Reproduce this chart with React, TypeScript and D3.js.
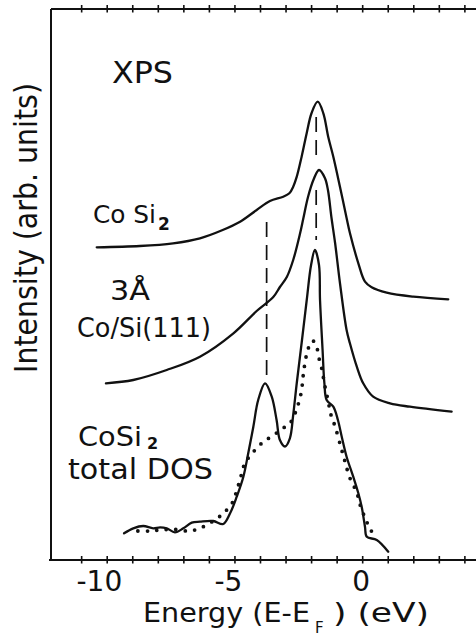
import React from "react";
import * as d3 from "d3";

const W = 476;
const H = 639;

// XPS spectrum of CoSi2 (energy in eV, intensity in arb. units)
const cosi2E = [-10.41, -8.72, -7.42, -6.37, -5.48, -4.8, -4.15, -3.63, -3.11, -2.87, -2.72, -2.58, -2.39, -2.19, -2.0, -1.76, -1.54, -1.35, -1.15, -0.89, -0.63, -0.5, -0.17, 0.09, 0.35, 0.94, 1.98, 3.35];
const cosi2I = [3.127, 3.14, 3.167, 3.217, 3.3, 3.383, 3.5, 3.59, 3.633, 3.667, 3.733, 3.833, 4.033, 4.27, 4.47, 4.583, 4.467, 4.233, 4.033, 3.733, 3.42, 3.27, 2.967, 2.783, 2.727, 2.673, 2.633, 2.607];

// XPS spectrum of 3 A Co on Si(111)
const coSiE = [-10.05, -8.98, -7.67, -6.37, -5.06, -4.15, -3.5, -3.24, -2.97, -2.72, -2.45, -2.32, -2.14, -1.93, -1.71, -1.48, -1.36, -1.22, -1.08, -0.89, -0.63, -0.5, -0.23, 0.02, 0.41, 1.07, 1.85, 3.48];
const coSiI = [1.767, 1.8, 1.9, 2.033, 2.267, 2.49, 2.63, 2.73, 2.83, 3.0, 3.267, 3.42, 3.63, 3.8, 3.9, 3.82, 3.7, 3.42, 3.17, 2.77, 2.3, 2.167, 1.933, 1.767, 1.633, 1.567, 1.533, 1.483];

// CoSi2 total DOS (solid)
const dosE = [-9.34, -8.98, -8.59, -8.2, -7.93, -7.67, -7.35, -7.02, -6.69, -6.37, -5.85, -5.46, -5.19, -4.93, -4.67, -4.48, -4.28, -4.09, -3.82, -3.56, -3.37, -3.24, -3.04, -2.85, -2.72, -2.58, -2.39, -2.19, -2.02, -1.87, -1.71, -1.67, -1.57, -1.5, -1.41, -1.15, -0.97, -0.82, -0.63, -0.37, -0.17, -0.04, 0.09, 0.16, 0.55, 1.0];
const dosI = [0.267, 0.317, 0.34, 0.317, 0.327, 0.317, 0.277, 0.317, 0.373, 0.383, 0.39, 0.36, 0.467, 0.633, 0.833, 1.067, 1.333, 1.6, 1.767, 1.633, 1.4, 1.2, 1.135, 1.217, 1.45, 1.77, 2.17, 2.6, 2.95, 3.1, 2.95, 2.6, 2.1, 1.77, 1.6, 1.533, 1.4, 1.233, 1.033, 0.833, 0.667, 0.533, 0.333, 0.233, 0.2, 0.083];

// broadened DOS (dotted)
const dosBroadE = [-8.8, -8.36, -7.93, -7.39, -6.8, -6.37, -5.66, -5.35, -5.1, -4.93, -4.77, -4.61, -4.25, -3.91, -3.56, -3.12, -2.83, -2.52, -2.39, -2.34, -2.29, -2.22, -2.13, -1.96, -1.8, -1.7, -1.59, -1.5, -1.36, -1.24, -1.08, -0.85, -0.69, -0.52, -0.23, -0.07, 0.12, 0.31, 0.56];
const dosBroadI = [0.29, 0.29, 0.3, 0.307, 0.29, 0.317, 0.423, 0.493, 0.573, 0.693, 0.833, 0.967, 1.09, 1.177, 1.237, 1.317, 1.373, 1.56, 1.7, 1.82, 1.92, 2.027, 2.117, 2.193, 2.127, 2.007, 1.9, 1.767, 1.6, 1.45, 1.335, 1.127, 0.983, 0.833, 0.673, 0.527, 0.407, 0.3, 0.23];

// peak markers: energy, intensity range
const markE = [-1.82, -1.82, -3.76];
const markFrom = [4.43, 3.7, 3.38];
const markTo = [4.0, 3.2, 1.85];

const xTicks = [-11, -10, -9, -8, -7, -6, -5, -4, -3, -2, -1, 0, 1, 2, 3, 4];
const xTickLabels = [-10, -5, 0];

const zip = (a: number[], b: number[]) => a.map((v, i) => [v, b[i]] as [number, number]);

export default function App() {
  const x = d3.scaleLinear().domain([-12.2, 4.4]).range([51, 475.1]);
  const y = d3.scaleLinear().domain([0, 5.51]).range([560, 9]);
  const line = d3
    .line<[number, number]>()
    .x((d) => x(d[0]))
    .y((d) => y(d[1]))
    .curve(d3.curveCatmullRom.alpha(0.5));

  const ink = "#111";
  const font = "DejaVu Sans";

  return (
    <svg
      width={W}
      height={H}
      style={{ position: "absolute", left: 0, top: 0, background: "#fff" }}
      fontFamily={font}
      fill={ink}
    >
      <rect x={0} y={0} width={W} height={H} fill="#fff" />

      {/* frame */}
      <line x1={51} y1={y(5.51)} x2={51} y2={y(0)} stroke={ink} strokeWidth={2} />
      <line x1={51} y1={y(5.51)} x2={W} y2={y(5.51)} stroke={ink} strokeWidth={2} />
      <line x1={49} y1={y(0)} x2={W} y2={y(0)} stroke={ink} strokeWidth={2} />
      {xTicks.map((t) => (
        <g key={t}>
          <line x1={x(t)} x2={x(t)} y1={y(0) - 4} y2={y(0) + 3.5} stroke={ink} strokeWidth={1.6} />
          <line x1={x(t)} x2={x(t)} y1={y(5.51) - 4} y2={y(5.51) + 3.5} stroke={ink} strokeWidth={1.6} />
        </g>
      ))}
      {xTickLabels.map((t) => (
        <text
          key={t}
          x={x(t) + String(Math.abs(t)).length * 7.5}
          y={591}
          fontSize={28}
          textAnchor="end"
        >
          {String(t)}
        </text>
      ))}

      {/* axis titles */}
      <text x={143} y={622} fontSize={26} textLength={167} lengthAdjust="spacingAndGlyphs">
        Energy (E-E
      </text>
      <text x={315} y={633} fontSize={15}>
        F
      </text>
      <text x={333} y={622} fontSize={26} textLength={96} lengthAdjust="spacingAndGlyphs">
        ) (eV)
      </text>
      <text
        transform="translate(37,228) rotate(-90)"
        fontSize={32}
        textAnchor="middle"
        textLength={290}
        lengthAdjust="spacingAndGlyphs"
      >
        Intensity (arb. units)
      </text>

      {/* curves */}
      <g fill="none" stroke={ink} strokeLinejoin="round" strokeLinecap="round">
        <path d={line(zip(cosi2E, cosi2I)) || ""} strokeWidth={2.3} />
        <path d={line(zip(coSiE, coSiI)) || ""} strokeWidth={2.3} />
        <path d={line(zip(dosE, dosI)) || ""} strokeWidth={2.3} />
        <path
          d={line(zip(dosBroadE, dosBroadI)) || ""}
          strokeWidth={3.8}
          strokeDasharray="0 9.5"
        />
        {markE.map((e, i) => (
          <line
            key={i}
            x1={x(e)}
            x2={x(e)}
            y1={y(markFrom[i])}
            y2={y(markTo[i])}
            strokeWidth={1.7}
            strokeDasharray="15 8"
            strokeLinecap="butt"
          />
        ))}
      </g>

      {/* labels */}
      <text x={112} y={83} fontSize={30} textLength={61} lengthAdjust="spacingAndGlyphs">
        XPS
      </text>
      <text x={93} y={223} fontSize={25} textLength={63} lengthAdjust="spacingAndGlyphs">
        Co Si
      </text>
      <text x={158} y={230} fontSize={17} fontWeight="bold">
        2
      </text>
      <text x={110} y={300} fontSize={27} textLength={40} lengthAdjust="spacingAndGlyphs">
        3Å
      </text>
      <text x={77} y={337} fontSize={27} textLength={134} lengthAdjust="spacingAndGlyphs">
        Co/Si(111)
      </text>
      <text x={78} y={446} fontSize={27} textLength={64} lengthAdjust="spacingAndGlyphs">
        CoSi
      </text>
      <text x={147} y={448.5} fontSize={16} fontWeight="bold">
        2
      </text>
      <text x={68} y={479} fontSize={28} textLength={145} lengthAdjust="spacingAndGlyphs">
        total DOS
      </text>
    </svg>
  );
}
